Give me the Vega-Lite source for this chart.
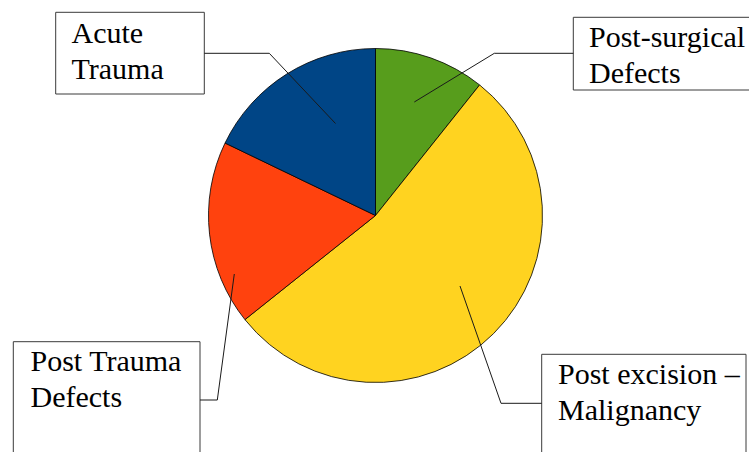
{
  "$schema": "https://vega.github.io/schema/vega-lite/v6.json",
  "width": 749,
  "height": 452,
  "autosize": {"type": "none"},
  "padding": 0,
  "background": "white",
  "view": {"stroke": null},
  "config": {"axis": {"disable": true}},
  "datasets": {
    "slices": [
      {"category": "Post-surgical Defects", "count": 6, "rank": 1},
      {"category": "Post excision – Malignancy", "count": 30, "rank": 2},
      {"category": "Post Trauma Defects", "count": 10, "rank": 3},
      {"category": "Acute Trauma", "count": 10, "rank": 4}
    ],
    "boxes": [
      {"category": "Acute Trauma", "x1": 55.7, "x2": 204.3, "y1": 12.3, "y2": 94},
      {"category": "Post-surgical Defects", "x1": 573.3, "x2": 765, "y1": 17.3, "y2": 90},
      {"category": "Post Trauma Defects", "x1": 13.3, "x2": 200, "y1": 341.7, "y2": 470},
      {"category": "Post excision – Malignancy", "x1": 541.7, "x2": 746, "y1": 354.3, "y2": 470}
    ],
    "leaders": [
      {"category": "Acute Trauma", "step": 1, "x": 204.3, "y": 53.3},
      {"category": "Acute Trauma", "step": 2, "x": 269.3, "y": 53.3},
      {"category": "Acute Trauma", "step": 3, "x": 335.5, "y": 123.5},
      {"category": "Post-surgical Defects", "step": 1, "x": 573.3, "y": 53.3},
      {"category": "Post-surgical Defects", "step": 2, "x": 494.3, "y": 53.3},
      {"category": "Post-surgical Defects", "step": 3, "x": 414.3, "y": 102},
      {"category": "Post Trauma Defects", "step": 1, "x": 200, "y": 400},
      {"category": "Post Trauma Defects", "step": 2, "x": 217.3, "y": 400},
      {"category": "Post Trauma Defects", "step": 3, "x": 234.3, "y": 274},
      {"category": "Post excision – Malignancy", "step": 1, "x": 541.7, "y": 403.3},
      {"category": "Post excision – Malignancy", "step": 2, "x": 501, "y": 403.3},
      {"category": "Post excision – Malignancy", "step": 3, "x": 460, "y": 286}
    ],
    "labels": [
      {"text": "Acute\nTrauma", "x": 71.5, "y": 42.7},
      {"text": "Post-surgical\nDefects", "x": 589, "y": 47.3},
      {"text": "Post Trauma\nDefects", "x": 30.5, "y": 371},
      {"text": "Post excision –\nMalignancy", "x": 558, "y": 384}
    ]
  },
  "resolve": {"scale": {"color": "independent"}},
  "layer": [
    {
      "data": {"name": "boxes"},
      "mark": {"type": "rect", "fill": "white", "stroke": "#3a3a3a", "strokeWidth": 1},
      "encoding": {
        "x": {"field": "x1", "type": "quantitative", "scale": {"domain": [0, 749], "nice": false, "zero": false}},
        "x2": {"field": "x2"},
        "y": {"field": "y1", "type": "quantitative", "scale": {"domain": [0, 452], "nice": false, "zero": false, "reverse": true}},
        "y2": {"field": "y2"}
      }
    },
    {
      "data": {"name": "slices"},
      "mark": {"type": "arc", "outerRadius": 167, "stroke": "black", "strokeWidth": 0.8},
      "encoding": {
        "theta": {"field": "count", "type": "quantitative", "stack": true},
        "order": {"field": "rank", "type": "quantitative"},
        "color": {
          "field": "category",
          "type": "nominal",
          "legend": null,
          "scale": {
            "domain": ["Post-surgical Defects", "Post excision – Malignancy", "Post Trauma Defects", "Acute Trauma"],
            "range": ["#579D1C", "#FFD320", "#FF420E", "#004586"]
          }
        },
        "x": {"datum": 375.5, "type": "quantitative"},
        "y": {"datum": 215.5, "type": "quantitative"}
      }
    },
    {
      "data": {"name": "leaders"},
      "mark": {"type": "line", "color": "#1a1a1a", "strokeWidth": 1},
      "encoding": {
        "x": {"field": "x", "type": "quantitative"},
        "y": {"field": "y", "type": "quantitative"},
        "detail": {"field": "category"},
        "order": {"field": "step", "type": "quantitative"}
      }
    },
    {
      "data": {"name": "labels"},
      "mark": {
        "type": "text",
        "font": "Times New Roman, Times, Liberation Serif, serif",
        "fontSize": 30,
        "lineHeight": 36,
        "lineBreak": "\n",
        "align": "left",
        "baseline": "alphabetic",
        "color": "black"
      },
      "encoding": {
        "x": {"field": "x", "type": "quantitative"},
        "y": {"field": "y", "type": "quantitative"},
        "text": {"field": "text"}
      }
    }
  ]
}
